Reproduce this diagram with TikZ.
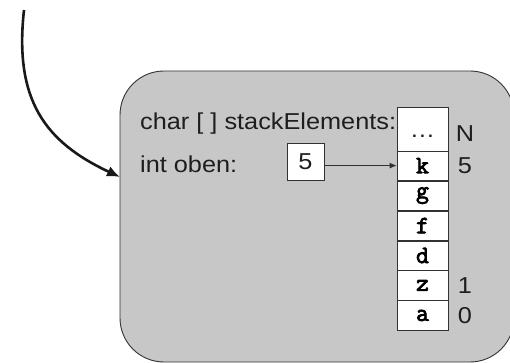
\documentclass[tikz,border=0pt]{standalone}
\usepackage{fontspec}
\setmainfont{Liberation Sans}
\newfontfamily\lblfont{Liberation Sans}[FakeStretch=1.1]
\newfontfamily\cellfont{Latin Modern Mono}[FakeBold=3]
\usetikzlibrary{arrows.meta,positioning}
\definecolor{panel}{RGB}{199,199,199}
\definecolor{edge}{RGB}{50,50,50}
\definecolor{ink}{RGB}{30,30,30}
\tikzset{
  lbl/.style={font=\fontsize{23}{24}\selectfont\lblfont, text=ink, inner sep=0pt},
  cell/.style={draw=edge, line width=0.8pt, fill=white, minimum width=51pt, minimum height=29.17pt,
               inner sep=0pt, font=\fontsize{25}{26}\selectfont\cellfont},
  idx/.style={font=\fontsize{23}{24}\selectfont\lblfont, text=ink, inner sep=0pt},
}
\begin{document}
\begin{tikzpicture}[x=1pt,y=-1pt]
\useasboundingbox (0,0) rectangle (510,363);
\clip (0,0) rectangle (510,363);
% rounded object panel
\draw[edge, line width=0.9pt, fill=panel, rounded corners=44pt] (120,71) rectangle (514,362);
% field labels
\node[lbl, anchor=base west] (chararr) at (140,130) {char [ ] stackElements:};
\node[lbl, anchor=base west] (oben) at (140,172) {int oben:};
% value box of oben
\node[draw=edge, line width=0.8pt, fill=white, minimum size=37pt, inner sep=0pt,
      font=\fontsize{23}{24}\selectfont\lblfont, text=ink] (five) at (305.5,161.5) {5};
% array cells
\node[cell, minimum height=44pt] (top) at (422.5,129) {};
\node[idx] (dots) at ([yshift=-7pt]top.center) {\ldots};
\node[cell] (ck) at (422.5,165.6) {k};
\node[cell, below=0pt of ck] (cg) {g};
\node[cell, below=0pt of cg] (cf) {f};
\node[cell, below=0pt of cf] (cd) {d};
\node[cell, below=0pt of cd] (cz) {z};
\node[cell, below=0pt of cz] (ca) {a};
% indices
\node[idx] (iN) at (465,134) {N};
\node[idx] (i5) at (iN |- ck) {5};
\node[idx] (i1) at (iN |- cz) {1};
\node[idx] (i0) at (iN |- ca) {0};
% reference from oben into the array
\draw[edge, line width=0.8pt, -{Latex[length=7pt,width=6pt]}] (ck.west -| five.east) -- (ck.west);
% incoming reference to the object
\coordinate (src) at (24,10);
\draw[black!90, line width=2.6pt, -{Latex[length=13pt,width=11pt]}]
  (src) .. controls (14,100) and (45,142) .. (120,177);
\end{tikzpicture}
\end{document}
